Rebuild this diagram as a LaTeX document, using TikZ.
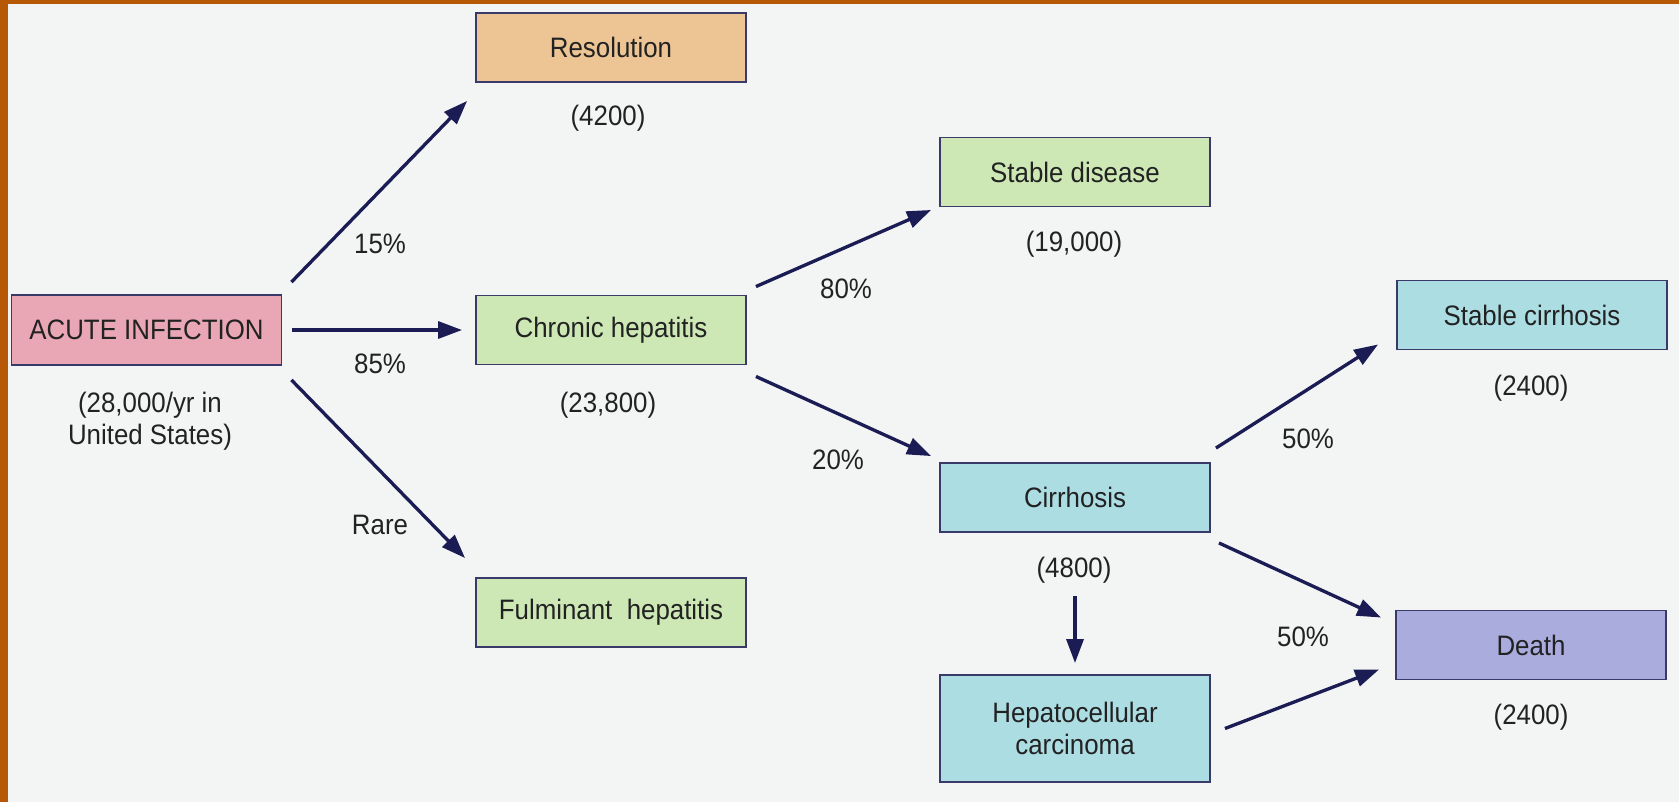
\documentclass[tikz,border=0pt]{standalone}
\usepackage{fontspec}
\setmainfont[FakeStretch=0.92]{Liberation Sans}
\usetikzlibrary{arrows.meta}
\definecolor{slide}{HTML}{B65806}
\definecolor{paper}{HTML}{F3F5F5}
\definecolor{pinkbox}{HTML}{E9A7B5}
\definecolor{tanbox}{HTML}{EDC594}
\definecolor{greenbox}{HTML}{CDE8B5}
\definecolor{cyanbox}{HTML}{ACDDE3}
\definecolor{violetbox}{HTML}{A9ACDD}
\definecolor{edge}{HTML}{3A3A6A}
\definecolor{ink}{HTML}{1C1C55}
\definecolor{txt}{HTML}{222222}
\tikzset{
  box/.style={draw=edge,line width=1.1pt,minimum width=5.4cm,minimum height=1.38cm,inner sep=0pt,align=center,text=txt,font=\fontsize{16}{18.2}\selectfont},
  count/.style={text=txt,font=\fontsize{16}{18.2}\selectfont,align=center,inner sep=0pt},
  flow/.style={draw=ink,line width=1.9pt,-{Triangle[length=0.48cm,width=0.34cm]}}
}
\begin{document}
\begin{tikzpicture}[x=0.02cm,y=-0.02cm]
\useasboundingbox (0,0) rectangle (1679,802);
\fill[paper] (0,0) rectangle (1679,802);
\fill[slide] (0,0) rectangle (8,802);
\fill[slide] (0,0) rectangle (1679,3.5);
% boxes
\node[box,fill=pinkbox,minimum height=1.4cm] (acute) at (146.5,330) {ACUTE INFECTION};
\node[box,fill=tanbox] (res) at (611,47.5) {Resolution};
\node[box,fill=greenbox] (chronic) at (611,330) {Chronic hepatitis};
\node[box,fill=greenbox] (fulm) at (611,612.5) {Fulminant\ \ hepatitis};
\node[box,fill=greenbox] (stabdis) at (1075,172) {Stable disease};
\node[box,fill=cyanbox] (cirr) at (1075,497.5) {Cirrhosis};
\node[box,fill=cyanbox,minimum height=2.14cm] (hcc) at (1075,728.5) {Hepatocellular\\carcinoma};
\node[box,fill=cyanbox] (stabcirr) at (1532,315) {Stable cirrhosis};
\node[box,fill=violetbox] (death) at (1531,645) {Death};
% counts
\node[count] (acutecount) at (150,421) {(28,000/yr in\\United States)};
\node[count] (rescount) at (608,118) {(4200)};
\node[count] (chroniccount) at (608,405) {(23,800)};
\node[count] (stabdiscount) at (1074,244) {(19,000)};
\node[count] (cirrcount) at (1074,570) {(4800)};
\node[count] (stabcirrcount) at (1531,388) {(2400)};
\node[count] (deathcount) at (1531,717) {(2400)};
% percentages
\node[count] (p15) at (380,244) {15\%};
\node[count] (p85) at (380,364) {85\%};
\node[count] (rare) at (380,525) {Rare};
\node[count] (p80) at (846,289) {80\%};
\node[count] (p20) at (838,460) {20\%};
\node[count] (p50a) at (1308,439) {50\%};
\node[count] (p50b) at (1303,637) {50\%};
% arrows
\draw[flow] ([shift={(9,-12)}]acute.north east) -- ([shift={(-8,18)}]res.south west);
\draw[flow] ([xshift=0.2cm]acute.east) -- ([xshift=-0.26cm]chronic.west);
\draw[flow] ([shift={(9,14)}]acute.south east) -- ([shift={(-10,-19)}]fulm.north west);
\draw[flow] ([shift={(9,-8)}]chronic.north east) -- ([shift={(-8,2.5)}]stabdis.south west);
\draw[flow] ([shift={(9,11)}]chronic.south east) -- ([shift={(-8,-6)}]cirr.north west);
\draw[flow] ([yshift=-1.26cm]cirr.south) -- ([yshift=0.22cm]hcc.north);
\draw[flow] ([shift={(5,-14)}]cirr.north east) -- ([shift={(-18,-6)}]stabcirr.south west);
\draw[flow] ([shift={(8,10)}]cirr.south east) -- ([shift={(-14,8)}]death.north west);
\draw[flow] ([xshift=0.28cm]hcc.east) -- ([shift={(-16,-11)}]death.south west);
\end{tikzpicture}
\end{document}
